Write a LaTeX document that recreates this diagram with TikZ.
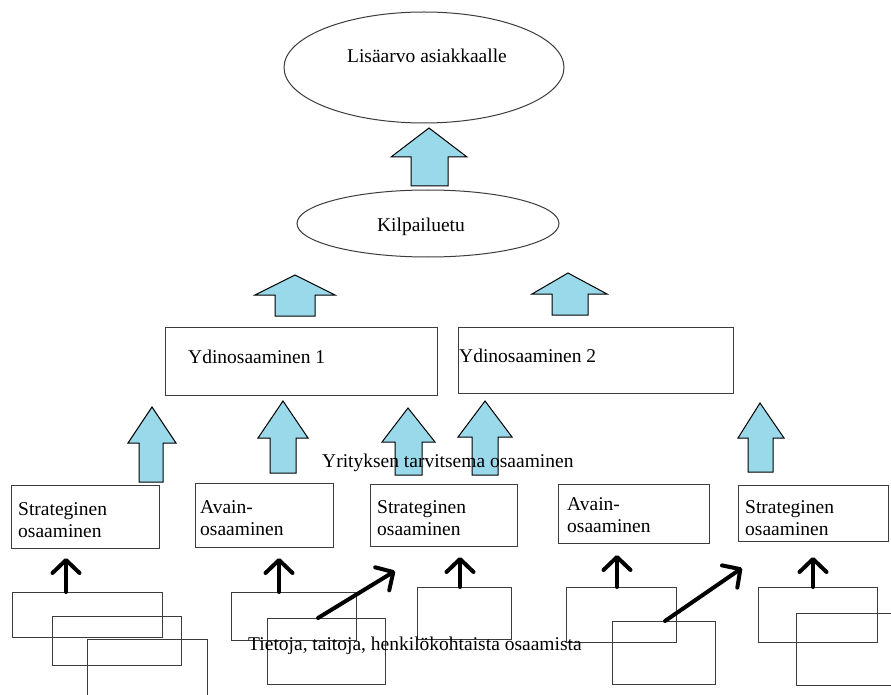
\documentclass[tikz,border=0pt]{standalone}
\usepackage{fontspec}
\setmainfont{Liberation Serif}
\usetikzlibrary{arrows.meta,calc,shapes.geometric}
\definecolor{arrowblue}{RGB}{153,217,234}
\definecolor{boxline}{RGB}{60,60,60}

% upward block arrow: tip x, tip y, head left, head right, head y, shaft left, shaft right, bottom y
\newcommand{\blockup}[8]{%
  \draw[blockarrow] (#1,#2) -- (#4,#5) -- (#7,#5) -- (#7,#8) -- (#6,#8) -- (#6,#5) -- (#3,#5) -- cycle;}

\begin{document}
\begin{tikzpicture}[x=1pt,y=-1pt,
  every node/.style={font=\fontsize{19.5}{22}\selectfont},
  frame/.style={draw=boxline,line width=1pt,inner sep=0pt,outer sep=0pt,anchor=north west},
  oval/.style={ellipse,draw=boxline,line width=1pt,inner sep=0pt},
  txt/.style={inner sep=0pt,align=left},
  blockarrow/.style={fill=arrowblue,draw=black,line width=1pt,line join=miter},
  push/.style={line width=4pt,line cap=round,-{Straight Barb[length=13pt,width=27pt,round]}}]

\useasboundingbox (0,0) rectangle (891,695);
\fill[white] (0,0) rectangle (891,695);

% ovals
\node[oval,minimum width=280,minimum height=111] (value) at (424,67.5) {};
\node[oval,minimum width=262,minimum height=67] (edge) at (428,223.5) {};

% core competence boxes
\node[frame,minimum width=272,minimum height=68] (y1) at (165,327) {};
\node[frame,minimum width=275,minimum height=66] (y2) at (458,327) {};

% competence boxes
\node[frame,minimum width=148,minimum height=63] (s1) at (11,485) {};
\node[frame,minimum width=138,minimum height=64] (a1) at (195,483) {};
\node[frame,minimum width=147,minimum height=62] (s2) at (370,484) {};
\node[frame,minimum width=151,minimum height=59] (a2) at (558,484) {};
\node[frame,minimum width=150,minimum height=56] (s3) at (738,485) {};

% knowledge and skill boxes
\node[frame,minimum width=150,minimum height=45] (r1) at (12,592) {};
\node[frame,minimum width=129,minimum height=49] (r2) at (52,616) {};
\node[frame,minimum width=120,minimum height=70] (r3) at (87,639) {};
\node[frame,minimum width=125,minimum height=48] (r4) at (231,592) {};
\node[frame,minimum width=118,minimum height=66] (r5) at (267,618) {};
\node[frame,minimum width=94,minimum height=52] (r6) at (417,587) {};
\node[frame,minimum width=110,minimum height=55] (r7) at (566,587) {};
\node[frame,minimum width=103,minimum height=63] (r8) at (612,621) {};
\node[frame,minimum width=119,minimum height=55] (r9) at (758,587) {};
\node[frame,minimum width=110,minimum height=72] (r10) at (796,613) {};

% block arrows
\blockup{429}{128}{391}{467}{157}{411}{448}{186}
\blockup{295}{275}{255}{335}{295}{275}{315}{316}
\blockup{568}{273}{532}{607}{294}{552}{588}{315}
\blockup{152}{407}{128}{176}{443}{139}{163}{482}
\blockup{283}{401}{258}{308}{438}{270}{296}{473}
\blockup{408}{408}{382}{435}{442}{395}{422}{475}
\blockup{485}{401}{458}{512}{437}{472}{498}{475}
\blockup{760}{403}{738}{784}{438}{748}{773}{472}

% black arrows
\draw[push] ([xshift=54pt]r1.north west) -- ([xshift=55pt,yshift=-10pt]s1.south west);
\draw[push] ([xshift=48pt]r4.north west) -- ([xshift=84pt,yshift=-11pt]a1.south west);
\draw[push] ([xshift=43pt]r6.north west) -- ([xshift=90pt,yshift=-11pt]s2.south west);
\draw[push] ([xshift=51pt]r7.north west) -- ([xshift=59pt,yshift=-12pt]a2.south west);
\draw[push] ([xshift=55pt]r9.north west) -- ([xshift=75pt,yshift=-16pt]s3.south west);
\draw[push] ([xshift=51pt]r5.north west) -- ([xshift=25pt,yshift=-25pt]s2.south west);
\draw[push] ([xshift=53pt]r8.north west) -- ([xshift=4pt,yshift=-27pt]s3.south west);

% texts
\node[txt,anchor=base] (tvalue) at (427,63) {Lisäarvo asiakkaalle};
\node[txt,anchor=base] (tedge) at (421,231) {Kilpailuetu};
\node[txt,anchor=base west] (ty1) at (188,363) {Ydinosaaminen 1};
\node[txt,anchor=base west] (ty2) at (459,362) {Ydinosaaminen 2};
\node[txt,anchor=north west] (ts1) at (18,502) {Strateginen\\osaaminen};
\node[txt,anchor=north west] (ta1) at (200,500) {Avain-\\osaaminen};
\node[txt,anchor=north west] (ts2) at (377,500) {Strateginen\\osaaminen};
\node[txt,anchor=north west] (ta2) at (567,497) {Avain-\\osaaminen};
\node[txt,anchor=north west] (ts3) at (745,500) {Strateginen\\osaaminen};
\node[txt,anchor=base west] (tneed) at (322,467) {Yrityksen tarvitsema osaaminen};
\node[txt,anchor=base west] (tskill) at (248,650) {Tietoja, taitoja, henkilökohtaista osaamista};
\end{tikzpicture}
\end{document}
